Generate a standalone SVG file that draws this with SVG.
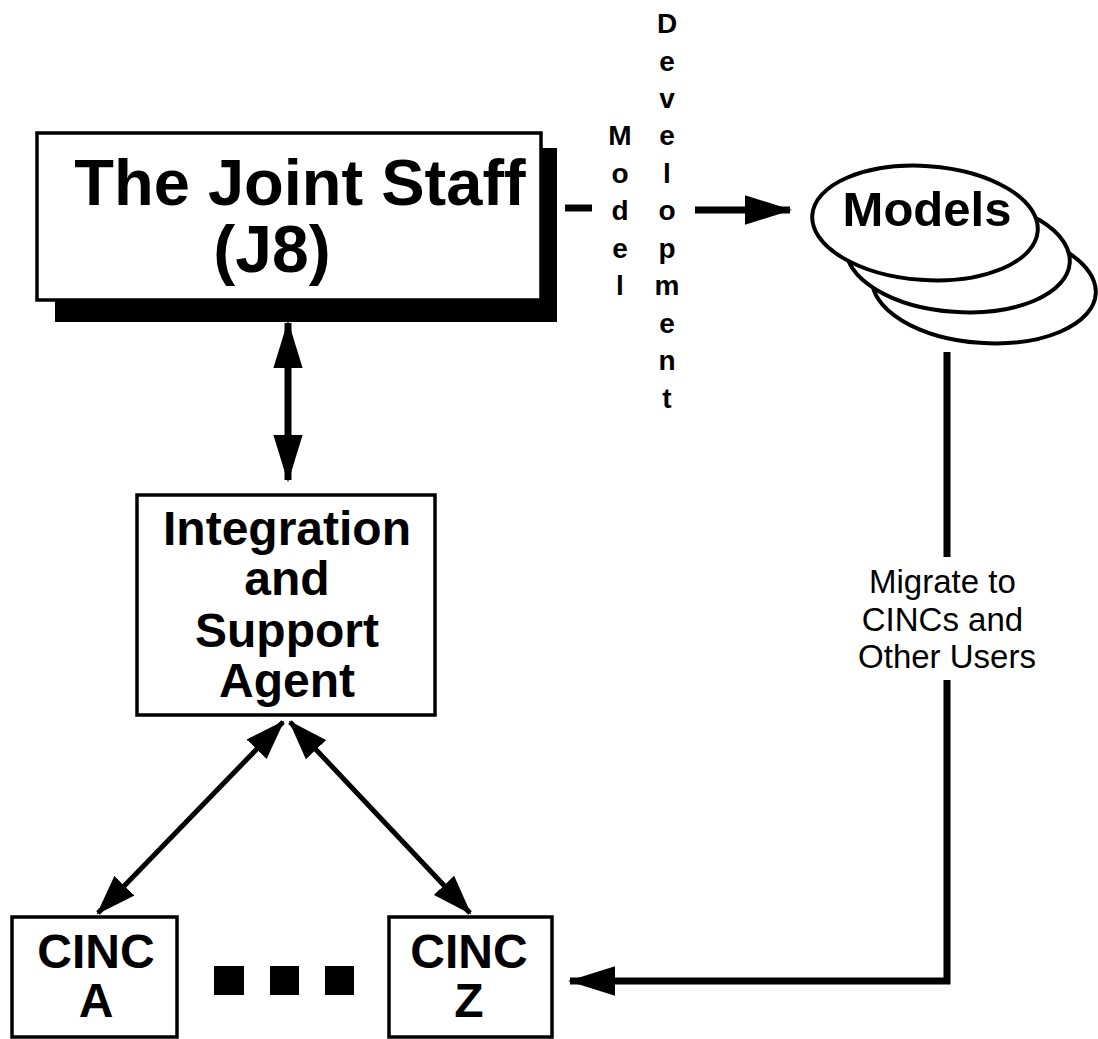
<svg xmlns="http://www.w3.org/2000/svg" width="1098" height="1039" viewBox="0 0 1098 1039">
<defs>
<style>
.box{fill:#fff;stroke:#000;stroke-width:3.5}
.lbl{font-family:"Liberation Sans",Arial,sans-serif;font-weight:bold;fill:#000;text-anchor:middle}
.reg{font-family:"Liberation Sans",Arial,sans-serif;fill:#000;text-anchor:middle}
.ln{stroke:#000;stroke-width:7;fill:none}
.ln2{stroke:#000;stroke-width:5;fill:none}
.ell{fill:#fff;stroke:#000;stroke-width:4}
</style>
<marker id="ah" viewBox="0 0 10 10" preserveAspectRatio="none" refX="9.5" refY="5" markerWidth="6.8" markerHeight="4.2" markerUnits="strokeWidth" orient="auto-start-reverse">
<path d="M0,0 L10,5 L0,10 Z" fill="#000"/>
</marker>
<marker id="ahs" viewBox="0 0 10 10" preserveAspectRatio="none" refX="9.5" refY="5" markerWidth="8" markerHeight="5.6" markerUnits="strokeWidth" orient="auto-start-reverse">
<path d="M0,0 L10,5 L0,10 Z" fill="#000"/>
</marker>
</defs>
<rect width="1098" height="1039" fill="#fff"/>

<g id="joint-staff">
<rect x="55" y="148" width="502" height="174" fill="#000"/>
<rect class="box" x="37" y="133" width="504" height="167"/>
<text class="lbl" x="300" y="205" font-size="65">The Joint Staff</text>
<text class="lbl" x="272" y="272" font-size="66">(J8)</text>
</g>

<g id="models">
<ellipse class="ell" cx="984" cy="286" rx="112" ry="57" transform="rotate(4 984 286)"/>
<ellipse class="ell" cx="958" cy="255" rx="112" ry="57" transform="rotate(4 958 255)"/>
<ellipse class="ell" cx="925" cy="223" rx="113" ry="57" transform="rotate(4 925 223)"/>
<text class="lbl" x="927" y="226" font-size="49">Models</text>
</g>

<g id="integration">
<rect class="box" x="137" y="495" width="298" height="220"/>
<text class="lbl" x="287" y="545" font-size="48">Integration</text>
<text class="lbl" x="287" y="595" font-size="48">and</text>
<text class="lbl" x="287" y="647" font-size="48">Support</text>
<text class="lbl" x="287" y="697" font-size="48">Agent</text>
</g>

<g id="cinc-a">
<rect class="box" x="12" y="917" width="165" height="120"/>
<text class="lbl" x="96" y="968" font-size="48">CINC</text>
<text class="lbl" x="96" y="1017" font-size="48">A</text>
</g>

<g id="ellipsis">
<rect x="214" y="966" width="30" height="29" fill="#000"/>
<rect x="270" y="966" width="29" height="29" fill="#000"/>
<rect x="325" y="966" width="29" height="29" fill="#000"/>
</g>

<g id="cinc-z">
<rect class="box" x="389" y="917" width="163" height="120"/>
<text class="lbl" x="469" y="968" font-size="48">CINC</text>
<text class="lbl" x="469" y="1017" font-size="48">Z</text>
</g>

<g id="connectors">
<line class="ln" x1="288" y1="323" x2="288" y2="480" marker-start="url(#ah)" marker-end="url(#ah)"/>
<line class="ln2" x1="283" y1="722" x2="98" y2="913" marker-start="url(#ahs)" marker-end="url(#ahs)"/>
<line class="ln2" x1="290" y1="722" x2="470" y2="913" marker-start="url(#ahs)" marker-end="url(#ahs)"/>
<line class="ln" x1="565" y1="208" x2="592" y2="208"/>
<line class="ln" x1="695" y1="210" x2="790" y2="210" marker-end="url(#ah)"/>
<line class="ln" x1="947" y1="352" x2="947" y2="557"/>
<polyline class="ln" points="947,680 947,981 570,981" marker-end="url(#ah)"/>
</g>

<g id="labels">
<text class="lbl" font-size="28">
<tspan x="620" y="145">M</tspan><tspan x="620" y="183">o</tspan><tspan x="620" y="220">d</tspan><tspan x="620" y="258">e</tspan><tspan x="620" y="295">l</tspan>
</text>
<text class="lbl" font-size="28">
<tspan x="667" y="33">D</tspan><tspan x="667" y="71">e</tspan><tspan x="667" y="108">v</tspan><tspan x="667" y="145">e</tspan><tspan x="667" y="183">l</tspan><tspan x="667" y="220">o</tspan><tspan x="667" y="258">p</tspan><tspan x="667" y="295">m</tspan><tspan x="667" y="333">e</tspan><tspan x="667" y="370">n</tspan><tspan x="667" y="408">t</tspan>
</text>
<text class="reg" font-size="33">
<tspan x="947" y="593">Migrate to</tspan>
<tspan x="947" y="631">CINCs and</tspan>
<tspan x="947" y="668">Other Users</tspan>
</text>
</g>
</svg>
